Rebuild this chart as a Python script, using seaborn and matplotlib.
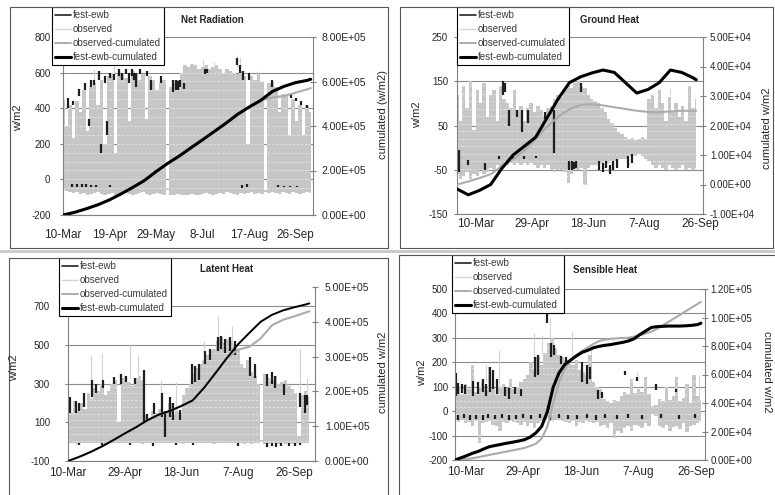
import numpy as np
import matplotlib
matplotlib.use("Agg")
import matplotlib.pyplot as plt
from matplotlib.lines import Line2D
from matplotlib.patches import Rectangle
from matplotlib.ticker import FuncFormatter
import seaborn as sns

sns.set_theme(style="white")
plt.rcParams["font.family"] = ["Liberation Sans", "DejaVu Sans"]
plt.rcParams["axes.unicode_minus"] = False

W, H = 775, 495
STEP = 3  # observed daily envelope: one sample every third day

date_labels_40 = ["10-Mar", "19-Apr", "29-May", "8-Jul", "17-Aug", "26-Sep"]
date_ticks_40 = [0, 40, 80, 120, 160, 200]
date_labels_50 = ["10-Mar", "29-Apr", "18-Jun", "7-Aug", "26-Sep"]
date_ticks_50 = [0, 50, 100, 150, 200]
legend_labels = ["fest-ewb", "observed", "observed-cumulated", "fest-ewb-cumulated"]

# ---------------- Net Radiation (W/m2) ----------------
nr_first_day = 0  # days after 10-Mar of the first record
nr_obs_max = [450, 300, 420, 230, 440, 380, 500, 270, 520, 540, 420, 560,
              200, 580, 600, 150, 590, 600, 570, 330, 610, 600, 560, 590,
              340, 580, 560, 500, 540, 560, -50, 520, 540, 560, 600, 640,
              630, 650, 640, 620, 630, 640, 620, 630, 640, 620, 600, 620,
              610, 600, 590, 610, 580, 200, 580, 560, 590, 550, -60, 540,
              550, 520, 380, 480, 470, 250, 450, 330, 420, 250, 410, 380]
nr_obs_min = [-60, -65, -70, -75, -70, -80, -75, -85, -80, -75, -70, -80,
              -85, -80, -75, -90, -85, -80, -75, -80, -85, -80, -75, -70,
              -80, -85, -80, -75, -80, -85, -60, -90, -85, -80, -85, -90,
              -85, -80, -85, -90, -80, -75, -80, -85, -80, -75, -80, -70,
              -75, -80, -85, -75, -80, -75, -70, -80, -75, -80, -70, -75,
              -70, -75, -80, -70, -75, -80, -70, -75, -80, -75, -70, -75]
nr_obs_spikes = [(27, 560, 620), (44, 590, 640), (120, 640, 670), (130, 640, 660),
                 (150, 630, 700), (152, 640, 690), (168, 590, 610)]
nr_fest = [(4, 400, 460), (9, 420, 440), (14, 470, 510), (19, 500, 540), (22, 300, 340),
           (24, 520, 560), (27, 530, 560), (31, 560, 610), (33, 150, 200), (36, 540, 580),
           (38, 250, 330), (40, 570, 600), (44, 560, 590), (48, 580, 620), (51, 560, 600),
           (54, 590, 620), (57, 540, 600), (59, 580, 620), (61, 560, 600), (63, 520, 600),
           (66, 590, 620), (72, 580, 610), (76, 500, 560), (84, 540, 580), (95, 490, 560),
           (97, 500, 560), (99, 500, 550), (101, 520, 560), (104, 510, 540), (122, 590, 620),
           (124, 600, 620), (150, 640, 680), (152, 600, 640), (155, 560, 610), (160, 560, 600),
           (180, 520, 560), (196, 460, 480), (200, 440, 460), (205, 420, 440), (210, 400, 420),
           (8, -45, -25), (12, -45, -25), (16, -40, -25), (20, -45, -25), (24, -40, -30),
           (28, -45, -30), (40, -40, -30), (154, -50, -30), (158, -45, -25), (185, -45, -30),
           (190, -45, -35), (195, -45, -35), (201, -45, -35)]
nr_cum_days = list(range(0, 211, 10)) + [213]
nr_cum_unit = 1e5
nr_cum_fest = [0, 0.12, 0.28, 0.46, 0.68, 0.95, 1.24, 1.55, 1.95, 2.32, 2.65, 3.02,
               3.38, 3.75, 4.12, 4.52, 4.85, 5.15, 5.55, 5.78, 5.95, 6.05, 6.1]
nr_cum_obs = [0, 0.12, 0.28, 0.46, 0.68, 0.95, 1.24, 1.55, 1.95, 2.32, 2.65, 3.02,
              3.38, 3.75, 4.12, 4.52, 4.85, 5.15, 5.28, 5.35, 5.5, 5.65, 5.7]

# ---------------- Ground Heat (W/m2) ----------------
gh_first_day = -17
gh_obs_max = [120, 60, 140, 90, 150, 40, 130, 100, 145, 70, 120, 130, 60, 140, 110,
              100, 90, 130, 85, 95, 60, 90, 100, 80, 95, 85, 70, 90,
              95, 110, 120, 115, 130, 140, 135, 145, 150, 140, 135, 120,
              110, 105, 100, 90, 80, 65, 55, 45, 35, 30, 25,
              20, 22, 18, 20, 25, 20,
              110, 120, 90, 130, 100, 60, 115, 80, 100, 70, 95, 60, 140, 90, 110]
gh_obs_min = [-60, -70, -65, -55, -70, -60, -65, -50, -60, -55, -45, -50, -40, -45, -40,
              -40, -35, -40, -35, -40, -35, -40, -35, -40, -45, -40, -45, -40,
              -50, -55, -50, -50, -55, -80, -60, -50, -50, -45, -85, -45,
              -40, -40, -35, -35, -30, -35, -30, -30, -25, -25, -25,
              -20, -15, -20, -15, -20, -25,
              -30, -40, -45, -40, -45, -50, -40, -45, -50, -45, -40, -50, -45, -50, -45]
gh_obs_spikes = [(12, 140, 150), (190, 120, 135)]
gh_fest = [(2, -55, -5), (10, -40, -28), (25, -50, -35), (41, 120, 150), (43, 125, 145),
           (46, 50, 85), (53, 70, 85), (58, 35, 85), (63, 55, 85), (78, 65, 80),
           (86, -12, 85), (110, 125, 145), (127, 93, 97),
           (100, -50, -31), (102, -50, -31), (104, -48, -33), (106, -45, -30),
           (126, -50, -30), (130, -55, -35), (133, -45, -30), (136, -60, -40),
           (139, -50, -30), (142, -45, -25), (152, -45, -20), (156, -35, -15),
           (37, -25, -20), (50, -26, -22), (60, -25, -20), (70, -24, -20)]
gh_cum_days = list(range(0, 211, 10)) + [213]
gh_cum_unit = 1e4
gh_cum_fest = [-0.15, -0.35, -0.2, 0.0, 0.55, 1.0, 1.3, 1.6, 2.25, 2.9, 3.45, 3.65,
               3.78, 3.88, 3.8, 3.45, 3.1, 3.22, 3.45, 3.88, 3.8, 3.62, 3.55]
gh_cum_obs = [0.0, 0.1, 0.22, 0.35, 0.62, 0.85, 1.15, 1.55, 1.95, 2.3, 2.55, 2.7,
              2.72, 2.68, 2.62, 2.56, 2.5, 2.46, 2.45, 2.48, 2.5, 2.5, 2.5]

# ---------------- Latent Heat (W/m2) ----------------
lh_first_day = 0
lh_obs_max = [180, 150, 210, 160, 200, 170,
              250, 220, 280, 260, 300, 240, 260,
              300, 320, 100, 330, 340, 310, 290, 330, 340, 320,
              140, 120, 160, 150, 170,
              130, 150, 200, 140, 160, 150,
              240, 280, 300, 350, 380, 400,
              420, 450, 470, 480,
              520, 540, 510, 530, 520, 500, 480,
              400, 380, 420, 360, 340, 300,
              10,
              350, 330, 320, 340, 300, 310, 320, 290,
              270, 250, 30, 240, 260, 230]
lh_obs_min = [-5, -8, -6, -10, -7, -5, -9, -6, -8, -5, -7, -10,
              -6, -8, -5, -7, -6, -9, -8, -5, -7, -6, -10, -8,
              -5, -7, -9, -6, -8, -5, -7, -6, -9, -8, -10, -7,
              -6, -8, -5, -7, -9, -6, -8, -10, -7, -5, -8, -6,
              -9, -7, -8, -6, -10, -7, -12, -5, -8, 0, -10, -12,
              -8, -9, -11, -8, -10, -9, -12, -10, -8, -9, -7, -8]
lh_obs_spikes = [(20, 220, 450), (30, 280, 460), (55, 330, 500), (62, 320, 450),
                 (82, 170, 320), (95, 160, 310), (120, 420, 520), (132, 520, 650),
                 (145, 510, 600), (205, 250, 480), (211, 230, 330)]
lh_fest = [(2, 150, 230), (7, 150, 210), (10, 160, 200), (14, 180, 250), (21, 230, 320),
           (25, 250, 300), (31, 280, 320), (41, 300, 335), (47, 300, 350), (51, 310, 340),
           (59, 300, 330), (67, 100, 370), (70, 110, 145), (76, 145, 200), (83, 130, 250),
           (86, 25, 160), (90, 130, 230), (93, 110, 200), (99, 110, 165), (109, 300, 400),
           (112, 310, 390), (116, 320, 400), (121, 400, 470), (125, 420, 480), (132, 470, 540),
           (135, 480, 545), (139, 460, 530), (143, 470, 540), (147, 450, 520), (161, 340, 440),
           (165, 330, 400), (176, 290, 350), (180, 300, 360), (183, 280, 340), (191, 240, 300),
           (205, 180, 250), (209, 150, 240), (211, 190, 240),
           (10, -15, -5), (30, -18, -5), (55, -15, -5), (75, -20, -5), (95, -18, -5),
           (110, -15, -5), (150, -20, -5), (176, -25, -8), (180, -22, -8), (184, -25, -8),
           (188, -20, -8), (195, -22, -8), (200, -20, -5), (205, -15, -5)]
lh_cum_days = list(range(0, 211, 10)) + [213]
lh_cum_unit = 1e5
lh_cum_fest = [0, 0.12, 0.26, 0.42, 0.6, 0.79, 0.97, 1.17, 1.33, 1.44, 1.58, 1.74,
               2.1, 2.52, 2.95, 3.35, 3.68, 4.0, 4.2, 4.33, 4.42, 4.5, 4.53]
lh_cum_obs = [0, 0.12, 0.26, 0.42, 0.6, 0.79, 0.97, 1.17, 1.33, 1.44, 1.58, 1.74,
              2.1, 2.52, 2.95, 3.2, 3.28, 3.52, 3.9, 4.06, 4.16, 4.27, 4.3]

# ---------------- Sensible Heat (W/m2) ----------------
sh_first_day = -9
sh_obs_max = [120, 100, 70, 110, 90, 190, 80, 100, 120, 85, 180, 90, 70, 100, 110, 95, 130, 90, 100, 120,
              130, 150, 200, 170, 220, 190, 240,
              280, 300, 260,
              230, 220, 210, 200, 190, 210, 170, 160, 150, 230,
              120, 100, 90,
              50, 40, 35, 45, 40,
              60, 80, 70, 130, 75, 90, 80, 140, 70,
              20, 25,
              50, 40, 100, 45, 60, 140, 40, 55, 110, 35, 150, 60, 40]
sh_obs_min = [-40, -45, -35, -50, -45, -60, -40, -130, -50, -45, -40, -55, -60, -80, -45, -50, -40, -45, -50, -55,
              -45, -60, -50, -70, -50, -40, -35,
              -30, -40, -35,
              -35, -40, -45, -50, -40, -60, -45, -50, -40, -45,
              -50, -45, -60,
              -55, -70, -50, -110, -80,
              -90, -70, -60, -80, -55, -60, -70, -50, -60,
              -10, -20,
              -60, -70, -55, -80, -65, -60, -75, -50, -85, -60, -55, -50, -40]
sh_obs_spikes = [(27, 120, 190), (38, 100, 250), (68, 200, 320), (75, 240, 310), (82, 300, 380),
                 (101, 210, 330), (118, 230, 260), (158, 140, 160), (211, 40, 150)]
sh_fest = [(1, 60, 155), (3, 70, 115), (6, 75, 110), (9, 70, 105), (16, 60, 125), (20, 70, 120),
           (24, 80, 130), (27, 60, 110), (30, 80, 180), (33, 90, 170), (36, 70, 130), (43, 60, 100),
           (47, 50, 95), (52, 70, 100), (57, 60, 90), (69, 140, 220), (72, 150, 230), (80, 360, 400),
           (83, 220, 280), (86, 230, 270), (92, 195, 225), (96, 200, 220), (110, 120, 200),
           (114, 110, 190), (117, 130, 180), (124, 50, 85), (127, 55, 80), (147, 150, 165),
           (158, 125, 140), (174, 85, 110), (191, 80, 90),
           (3, -35, -15), (8, -30, -12), (13, -35, -15), (18, -32, -14), (24, -36, -15),
           (29, -30, -12), (35, -34, -15), (41, -30, -12), (47, -35, -15), (53, -32, -14),
           (59, -30, -12), (66, -34, -15), (74, -30, -12), (82, -35, -15), (90, -30, -12),
           (98, -34, -15), (106, -32, -14), (114, -30, -12), (122, -35, -15), (130, -30, -12),
           (140, -34, -15), (150, -30, -12), (162, -32, -14), (178, -30, -12), (194, -34, -15),
           (208, -30, -12)]
sh_cum_days = list(range(0, 211, 5)) + [213]
sh_cum_unit = 1e4
sh_cum_fest = [0, 0.15, 0.3, 0.47, 0.6, 0.78, 0.94, 1.02, 1.1, 1.18, 1.25, 1.33, 1.42, 1.6, 1.9,
               2.35, 3.4, 5.1, 6.1, 6.7, 7.0, 7.3, 7.55, 7.7, 7.88, 7.98, 8.05, 8.1, 8.18, 8.25,
               8.35, 8.5, 8.8, 9.05, 9.3, 9.36, 9.38, 9.4, 9.4, 9.4, 9.42, 9.45, 9.5, 9.6]
sh_cum_obs = [0, 0.04, 0.08, 0.12, 0.2, 0.28, 0.36, 0.44, 0.52, 0.6, 0.68, 0.76, 0.84, 0.98, 1.14,
              1.5, 2.34, 3.98, 5.4, 6.4, 7.02, 7.35, 7.65, 7.9, 8.15, 8.35, 8.45, 8.5, 8.54, 8.56,
              8.58, 8.65, 8.75, 8.88, 9.0, 9.2, 9.45, 9.7, 9.95, 10.2, 10.45, 10.7, 10.95, 11.1]

FILL = "#c6c6c6"
GRID = "#8c8c8c"
AXIS = "#808080"
OBS_LINE = "#d2d2d2"
OBS_CUM = "#ababab"

fig = plt.figure(figsize=(W / 100, H / 100), dpi=100)
fig.patch.set_facecolor("white")


def px_rect(l, t, r, b):
    return [l / W, 1 - b / H, (r - l) / W, (b - t) / H]


def fig_xy(x, y):
    return x / W, 1 - y / H


def sci(v, _pos):
    return f"{v:.2E}"


def draw_panel(rect, first_day, obs_max, obs_min, obs_spikes, fest, cum_days, cum_obs,
               cum_fest, cum_unit, ylim, ystep, y2lim, y2step, xlim, xticks, xlabels,
               minor_step, ypad, y2pad, xpad, title, title_at, ylabel_at, y2label,
               y2label_at, y2rot, legend_at, fest_cum_lw, y2size):
    ax = fig.add_axes(px_rect(*rect))
    ax.set_facecolor("none")
    days = first_day + np.arange(len(obs_max)) * STEP

    # observed half-hourly range shown as its daily envelope
    poly = ax.fill_between(days, obs_min, obs_max, step="mid", color=FILL, lw=0, zorder=1)
    levels = np.arange(ylim[0] + minor_step, ylim[1], minor_step)
    streaks = ax.hlines(levels, xlim[0], xlim[1], colors="#e6e6e6", linestyles=(0, (3, 2)),
                        lw=0.6, zorder=1.3)
    streaks.set_clip_path(poly.get_paths()[0], poly.get_transform())
    if obs_spikes:
        sd, slo, shi = zip(*obs_spikes)
        ax.vlines(first_day + np.array(sd), slo, shi, colors=OBS_LINE, lw=0.8, zorder=1.1)

    # fest-ewb model where it departs from the observed range
    fd, flo, fhi = zip(*fest)
    ax.vlines(first_day + np.array(fd), flo, fhi, colors="#1e1e1e", lw=1.6, zorder=2)

    ax.set_xlim(*xlim)
    ax.set_ylim(*ylim)
    ax.set_yticks(np.arange(ylim[0], ylim[1] + 1, ystep))
    ax.set_xticks(xticks)
    ax.set_xticklabels(xlabels)
    ax.yaxis.grid(True, color=GRID, lw=0.8)
    ax.xaxis.grid(False)
    ax.set_axisbelow(True)
    for s in ("top", "right"):
        ax.spines[s].set_visible(False)
    for s in ("left", "bottom"):
        ax.spines[s].set_color(AXIS)
        ax.spines[s].set_linewidth(0.8)
    ax.tick_params(axis="y", direction="out", length=2, width=0.8, color=AXIS,
                   labelsize=7, pad=ypad, left=True)
    ax.tick_params(axis="x", length=0, labelsize=8.5, pad=xpad)

    ax2 = ax.twinx()
    cd = first_day + np.array(cum_days)
    sns.lineplot(x=cd, y=np.array(cum_obs) * cum_unit, ax=ax2, color=OBS_CUM, lw=1.5)
    sns.lineplot(x=cd, y=np.array(cum_fest) * cum_unit, ax=ax2, color="black",
                 lw=fest_cum_lw)
    ax2.set_ylim(*y2lim)
    ax2.set_yticks(np.arange(y2lim[0], y2lim[1] + y2step / 2, y2step))
    ax2.yaxis.set_major_formatter(FuncFormatter(sci))
    ax2.set_ylabel("")
    ax2.set_xlabel("")
    for s in ("top", "left", "bottom"):
        ax2.spines[s].set_visible(False)
    ax2.spines["right"].set_color(AXIS)
    ax2.spines["right"].set_linewidth(0.8)
    ax2.tick_params(axis="y", direction="inout", length=4, width=0.8, color=AXIS,
                    labelsize=y2size, pad=y2pad, right=True)
    ax2.set_xlim(*xlim)

    handles = [Line2D([], [], color="#222222", lw=1.2),
               Line2D([], [], color=OBS_LINE, lw=1.0),
               Line2D([], [], color=OBS_CUM, lw=1.4),
               Line2D([], [], color="black", lw=2.2)]
    leg = ax2.legend(handles, legend_labels, loc="upper left",
                     bbox_to_anchor=fig_xy(*legend_at), bbox_transform=fig.transFigure,
                     frameon=True, fancybox=False, edgecolor="black", fontsize=7,
                     handlelength=1.7, handletextpad=0.15, labelspacing=0.42,
                     borderpad=0.3, borderaxespad=0)
    leg.get_frame().set_linewidth(0.8)
    leg.get_frame().set_facecolor("white")
    leg.get_frame().set_alpha(1)
    for t in leg.get_texts():
        t.set_color("#3a3a3a")

    fig.text(*fig_xy(*title_at), title, fontsize=7, fontweight="bold",
             ha="center", va="center")
    fig.text(*fig_xy(*ylabel_at), "w/m2", fontsize=8, rotation=90,
             ha="center", va="center")
    fig.text(*fig_xy(*y2label_at), y2label, fontsize=8, rotation=y2rot,
             ha="center", va="center")


# panel frames
for l, t, r, b in [(10, 7, 388, 248), (400, 7, 773, 248), (9, 258, 388, 500), (399, 255, 777, 500)]:
    fig.patches.append(Rectangle((l / W, 1 - b / H), (r - l) / W, (b - t) / H,
                                 transform=fig.transFigure, fill=False,
                                 ec="#555555", lw=0.8, zorder=0))

draw_panel((63, 37, 313, 215), nr_first_day, nr_obs_max, nr_obs_min, nr_obs_spikes, nr_fest,
           nr_cum_days, nr_cum_obs, nr_cum_fest, nr_cum_unit,
           (-200, 800), 200, (0, 8e5), 2e5, (0, 215), date_ticks_40, date_labels_40, 50,
           7, 4, 10, "Net Radiation", (212, 20), (18, 118),
           "cumulated (w/m2)", (383, 115), 90, (52, 7), 2.2, 7.5)

draw_panel((457, 37, 703, 214), gh_first_day, gh_obs_max, gh_obs_min, gh_obs_spikes, gh_fest,
           gh_cum_days, gh_cum_obs, gh_cum_fest, gh_cum_unit,
           (-150, 250), 100, (-1e4, 5e4), 1e4, (-17, 202), date_ticks_50, date_labels_50, 17,
           4.5, 3, 3, "Ground Heat", (610, 20), (417, 115),
           "cumulated w/m2", (767, 128), 90, (457, 7), 2.2, 7)

draw_panel((68, 287, 315, 461), lh_first_day, lh_obs_max, lh_obs_min, lh_obs_spikes, lh_fest,
           lh_cum_days, lh_cum_obs, lh_cum_fest, lh_cum_unit,
           (-100, 800), 200, (0, 5e5), 1e5, (0, 218), date_ticks_50, date_labels_50, 35,
           11, 5, 4, "Latent Heat", (227, 269), (14, 368),
           "cumulated w/m2", (383, 372), 90, (59, 258), 1.4, 7.5)

draw_panel((455, 289, 705, 460), sh_first_day, sh_obs_max, sh_obs_min, sh_obs_spikes, sh_fest,
           sh_cum_days, sh_cum_obs, sh_cum_fest, sh_cum_unit,
           (-200, 500), 100, (0, 1.2e5), 2e4, (-9, 207.5), date_ticks_50, date_labels_50, 27,
           3, 2, 4, "Sensible Heat", (605, 270), (422, 373),
           "cumulated w/m2", (767, 372), 270, (452, 255), 2.2, 7)

# light band between the upper and lower pairs of charts
fig.add_artist(Line2D([0, 1], [1 - 251 / H, 1 - 251 / H], transform=fig.transFigure,
                      color="#c8c8c8", lw=2.0))

fig.savefig("out.png", dpi=100)
